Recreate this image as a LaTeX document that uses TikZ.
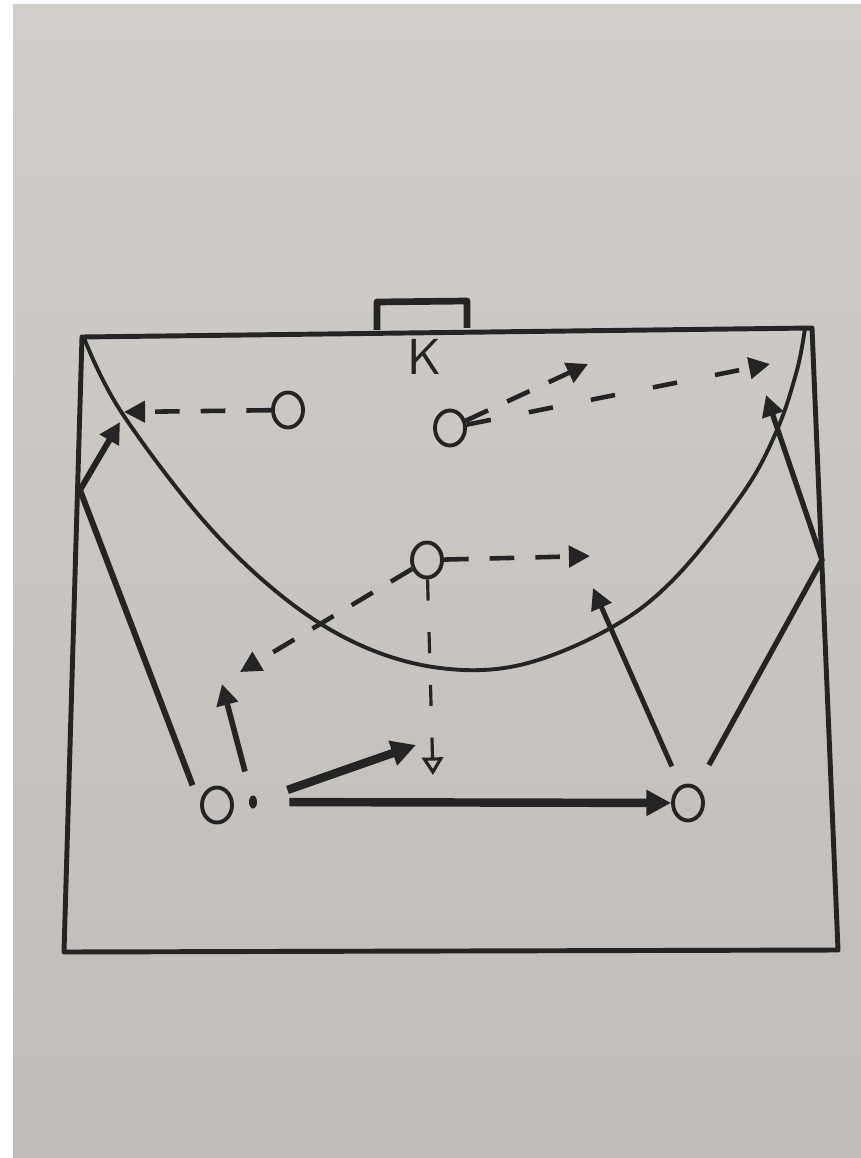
\documentclass[tikz,border=0pt]{standalone}
\usepackage{tikz}
\usetikzlibrary{arrows.meta,shapes.geometric}
\definecolor{pencil}{RGB}{36,36,36}
\definecolor{papertop}{RGB}{209,205,201}
\definecolor{paperbot}{RGB}{192,188,185}

\begin{document}
\begin{tikzpicture}[x=0.01cm,y=-0.01cm,
  player/.style={draw=pencil,ellipse,line width=1.1pt,minimum width=0.3cm,minimum height=0.35cm,inner sep=0pt},
  courtline/.style={draw=pencil,line width=1.4pt,line join=round},
  pass/.style={draw=pencil,line width=1.3pt,dash pattern=on 7pt off 6pt,-{Triangle[length=6pt,width=6pt]}},
  run/.style={draw=pencil,line width=1.6pt,-{Triangle[length=6pt,width=6pt]}},
  shot/.style={draw=pencil,line width=2.4pt,-{Triangle[length=7pt,width=7pt]}}]
\useasboundingbox (0,0) rectangle (861,1158);
\fill[white] (0,0) rectangle (861,1158);
\shade[top color=papertop,bottom color=paperbot] (13,5) rectangle (861,1158);

\draw[courtline] (82,337) -- (812,328) -- (838,950) -- (64,952) -- cycle;
\draw[courtline,line width=1.9pt] (377,330) -- (377,302) -- (467,301) -- (467,328);
\node[text=pencil,font=\sffamily\Large] (keeper) at (425,357) {K};
\draw[pencil,line width=1.1pt] plot[smooth,tension=0.6] coordinates {(84,338) (120,410) (203,520) (283,597) (360,645) (440,668) (520,665) (607,630) (673,580) (743,493) (777,430) (797,370) (805,328)};

\node[player] (defl) at (288,410) {};
\node[player] (defc) at (450,428) {};
\node[player] (defm) at (427,560) {};
\node[player] (attl) at (217,805) {};
\node[player] (attr) at (688,803) {};
\node[ellipse,fill=pencil,minimum width=0.08cm,minimum height=0.13cm,inner sep=0pt] (ball) at (253,802) {};

\coordinate (lwx) at (124,412);
\coordinate (lwrun) at (120,422);
\coordinate (lcorner) at (80,490);
\coordinate (rcorner) at (822,560);
\coordinate (rwing) at (766,395);
\coordinate (pa) at (588,364);
\coordinate (pb) at (770,364);
\coordinate (pc) at (590,556);
\coordinate (pd) at (240,672);
\coordinate (pe) at (433,775);
\coordinate (pf) at (222,684);
\coordinate (pg) at (416,745);
\coordinate (ph) at (593,588);

\draw[pass] (defl) -- (lwx);
\draw[pass] (defc) -- (pa);
\draw[pass,dash pattern=on 7pt off 11pt] (defc) -- (pb);
\draw[pass] (defm) -- (pc);
\draw[pass] (defm) -- (pd);
\draw[pass,line width=0.9pt,dash pattern=on 6pt off 9pt,-{Triangle[open,length=5pt,width=6pt]}] (defm) -- (pe);
\draw[run,shorten <=7pt] (ball) -- (pf);
\draw[shot,shorten <=9pt] (ball) -- (pg);
\draw[shot,shorten <=9pt] (ball) -- (attr);
\draw[run,line width=1.4pt,shorten <=6pt] (attr) -- (ph);
\draw[run,line width=1.5pt,shorten <=7pt] (attr) -- (rcorner) -- (rwing);
\draw[run,line width=1.7pt,shorten <=6pt] (attl.west) -- (lcorner) -- (lwrun);
\end{tikzpicture}
\end{document}
